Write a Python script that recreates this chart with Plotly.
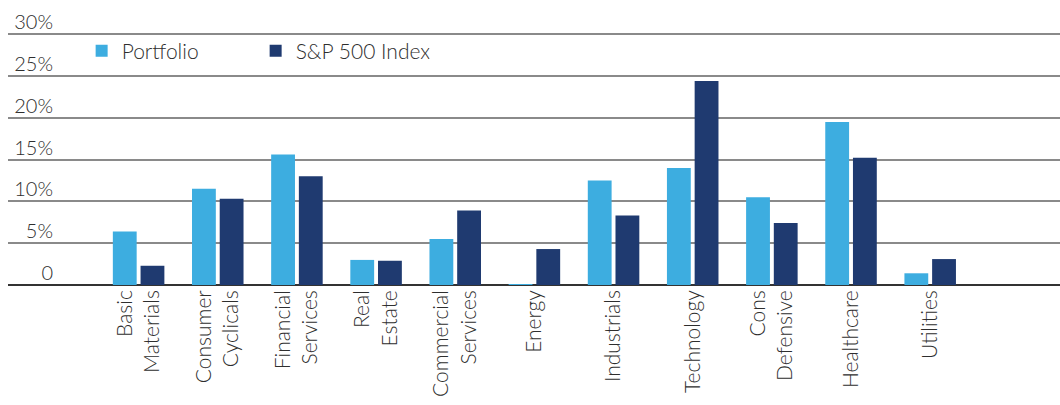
import plotly.graph_objects as go

categories = ["Basic<br>Materials", "Consumer<br>Cyclicals", "Financial<br>Services", "Real<br>Estate",
              "Commercial<br>Services", "Energy", "Industrials", "Technology", "Cons<br>Defensive",
              "Healthcare", "Utilities"]
portfolio = [6.4, 11.5, 15.6, 3.0, 5.5, 0.1, 12.5, 14.0, 10.5, 19.5, 1.4]
sp500 = [2.3, 10.3, 13.0, 2.9, 8.9, 4.3, 8.3, 24.4, 7.4, 15.2, 3.1]
y_ticks = [0, 5, 10, 15, 20, 25, 30]
y_tick_labels = ["0", "5%", "10%", "15%", "20%", "25%", "30%"]

LIGHT = "#3DADE0"
DARK = "#1F3A70"
TEXT = "#2E2E2E"
FONT = "Lato"

fig = go.Figure()
fig.add_trace(go.Bar(name="Portfolio", x=categories, y=portfolio, marker=dict(color=LIGHT, line=dict(width=0))))
fig.add_trace(go.Bar(name="S&P 500 Index", x=categories, y=sp500, marker=dict(color=DARK, line=dict(width=0))))

fig.update_layout(
    width=1060, height=405,
    margin=dict(l=8, r=0, t=32, b=120, autoexpand=False),
    paper_bgcolor="white", plot_bgcolor="white",
    barmode="group", bargap=0.3, bargroupgap=0.14,
    font=dict(family=FONT, size=20, color=TEXT, weight=300),
    legend=dict(orientation="h", x=0.07, y=0.925, xanchor="left", yanchor="middle",
                font=dict(family=FONT, size=21, color=TEXT, weight=300), entrywidth=129,
                bgcolor="rgba(0,0,0,0)"),
    xaxis=dict(range=[-1.65, 11.64], tickangle=-90, showgrid=False, showline=False,
               ticks="", tickfont=dict(family=FONT, size=21, color=TEXT, weight=300), zeroline=False),
    yaxis=dict(range=[0, 30.25], tickvals=y_ticks, ticktext=y_tick_labels, showgrid=True,
               gridcolor="#8A8A8A", gridwidth=1.5, zeroline=True, zerolinecolor="#333333",
               zerolinewidth=1.5, showline=False, ticks="",
               ticklabelposition="outside", ticklabelstandoff=-46, ticklabelshift=-12,
               tickfont=dict(family=FONT, size=20, color=TEXT, weight=300)),
)

fig.write_html("out.html")
